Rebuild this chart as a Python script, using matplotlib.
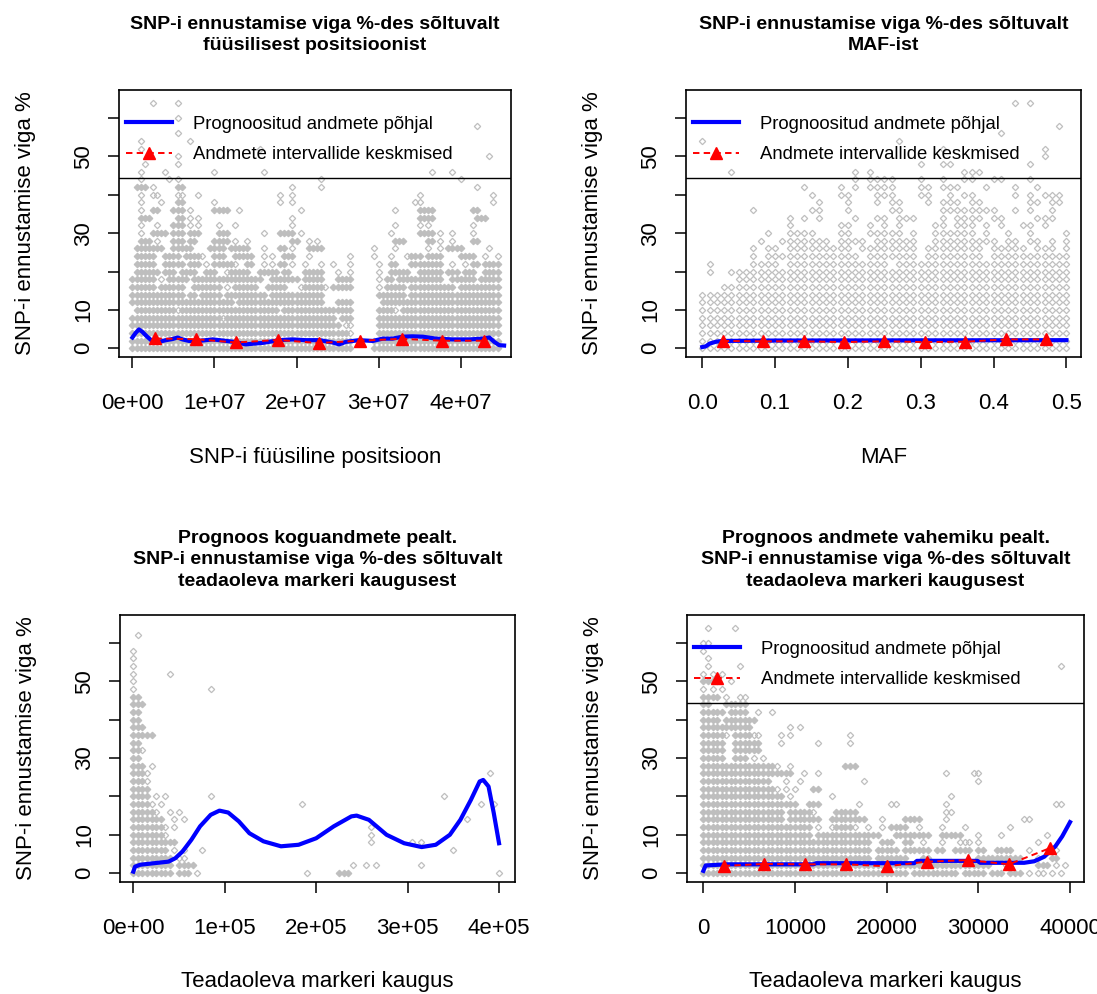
import matplotlib
matplotlib.use("Agg")
import matplotlib.pyplot as plt
from matplotlib.lines import Line2D

plt.rcParams.update({
    'font.family': 'Liberation Sans',
    'font.size': 16,
    'axes.linewidth': 1.2,
})

GRAY = '#BEBEBE'
ROW_STEP = 2.0          # error rows are 2 % apart

# --- scatter clouds: one spec string per error row (bottom row first),
# --- "a-b" = run of overlapping points, "c" = single point (column index)
POS_STEP = 0.5e6
POS_ROWS = [
    "0-53 59-89",
    "0-53 59-89",
    "0-52 53 60-89",
    "0-50 52 53 60-89",
    "0-21 22 23-49 51-53 60-76 77-89",
    "1-10 11 12-35 37-53 60-63 64 66-89",
    "0-12 13-24 26-46 50-53 61-89",
    "0-12 14-15 17-21 23-28 29-32 34-46 60-66 68-89",
    "0-5 7-12 15-21 23 25-30 33-37 41 42-46 47 49-53 60 62-66 68-78 80-89",
    "0-5 7 9-13 15-24 25-31 34-40 42-46 50-53 60 62-63 65-75 78-83 85-89",
    "1-6 8-10 12-15 18-20 23 24-28 31-35 37-38 42-46 50 53 60 63-67 70-75 77-79 81-83 86-89",
    "1-5 8-12 14-16 18 20-24 25 28-29 32 34 36-37 39 42 46 49 53 60 63-64 68-75 78 81 83-84 86-89",
    "1-5 8-11 13-16 17 20-22 25-29 32 34 37-39 43 53 59 63 67 68-70 72-75 80-83 86 89",
    "1-7 10-14 19-22 24-28 32 36-37 39 43-46 59 64 72 75 77-80 87",
    "2-4 6 10-12 14-15 20-23 25 28 39-40 43 45 64-66 72-73 75 78 83-84",
    "2 5-8 10-12 14-16 21-23 32 36-39 41 63 70-73 75 78 83",
    "2 6 10-12 14 16 21 25 39 64 70 72 83",
    "2-4 11-12 14 16 39 70-73 84-86",
    "2 5-6 10-12 14 20-23 26 41 64 70-73 83-84",
    "2 7 11-12 20 36 39 69 70 88",
    "2 5 6 11 12 16 36 39 70 88",
    "1-3 5 11-12 39 46 84",
    "2 9 11 46 80",
    "2 8 20 32 73 78",
    "3 11",
    "11 87",
    "2 31",
    "2 14",
    "11",
    "84",
    "11",
    "",
    "5 11",
]

MAF_STEP = 0.01
MAF_ROWS = [
    "0-50", "0-50", "0-50", "0-50", "0-50", "0-50", "0-50", "0-50",
    "3-50",
    "5-50",
    "1 4-50",
    "1 7-10 12-25 27-50",
    "7 9-21 23-29 31-38 40-50",
    "7 9-10 12-20 22-29 31-38 40-44 46-48 50",
    "8 11-17 19-22 24-29 32-40 42-43 45-46 48 50",
    "9 12-15 19-20 23-27 29 32-37 39 42 45 50",
    "12 19-20 23 25 27 32-33 35-37 39 41 44-45 47",
    "12 14 16 21 24-25 27-29 33 35-38 40-41 46-48",
    "7 15-16 20 26-27 33-40 43 45 48",
    "16 20 24 26-27 31 33-35 37-38 45-46 48-49",
    "15 19-20 24-26 30-31 34 36-37 43 45 47-49",
    "14 19 21 23-26 30-31 33-35 39 43 46",
    "21 23-26 30 33 36-37 40-41 45",
    "4 21 23 36-38",
    "30 33-34 45",
    "47",
    "33 47",
    "0 27",
    "41",
    "49",
    "",
    "",
    "43 45",
]

DIST_STEP = 5000
DIST_ROWS = [
    "0-8 10-12 14 38 45-47 80",
    "0-8 10-13 48 51 53 63",
    "0-8 10 11",
    "0-7 9 11 15 70",
    "0-7 8-9 52 61 63",
    "0-6 7 52",
    "0-6 7 9 52",
    "0-4 5-6 9 11 73",
    "0-4 5 8 10",
    "0-3 4 6 37 76 79",
    "0-3 5 7 17 68",
    "0-3",
    "0-2 3",
    "0-2 3 78",
    "0-2 4",
    "0-1",
    "0-1 2",
    "0-1",
    "0-1 2-4",
    "0-2",
    "0-1",
    "0-1",
    "0-2",
    "0-1",
    "0 17",
    "0",
    "0 8",
    "0",
    "0",
    "0",
    "",
    "1",
]

GAP_STEP = 500
GAP_ROWS = [
    "0-44 46-55 57-61 63-65 67-69 71 73 74 76 78",
    "0-62 66 73-75 77 79",
    "0-36 38-44 48-49 60-63 64-69 73 76-77",
    "0-36 38-42 44-49 51-52 55-58 60-61 64-67 71 77",
    "0-29 30-36 39-41 44-45 48 52 56 57 58 60 73",
    "0-23 25-32 33-38 42-49 52-56 60 65 75",
    "0-12 13-18 19-23 25 28 29-32 33 36 39 41-44 47 52 57 67",
    "0-11 12-17 19-25 28-35 39 44-47 53 70 71",
    "0-12 13-17 19-23 24 29-33 53 54",
    "0-8 9-14 15-20 23-25 34 41 42 53 77 78",
    "0-17 19 28 54",
    "0-15 16 18 20 24-25",
    "0-9 10-14 18 21 35 60",
    "0-13 14-19 22 25 53 59 60",
    "0-11 12-15 16 19 31-33",
    "0-4 7-9 11 13",
    "0-4 7-9 10-12",
    "0-4 7-12 17 25 32",
    "0-4 5 7-10 11 12 17 19 32",
    "0-1 2-10 19 21",
    "0-3 5-11",
    "0-4 6-9 12 15",
    "0-1 5-9",
    "0-3 5 8 9",
    "0 2 4",
    "0-3 6",
    "0 2 4",
    "1 8 78",
    "1",
    "0",
    "0 1",
    "",
    "1 7",
]

# --- fitted curves and interval means
POS_FIT_X = [0, 0.4e6, 0.8e6, 1.2e6, 1.8e6, 2.4e6, 3.2e6, 4.1e6, 4.9e6, 5.5e6,
             6.1e6, 6.9e6, 8.1e6, 9.8e6, 10.6e6, 11.4e6, 12.6e6, 13.8e6, 15.9e6, 17.9e6,
             19.5e6, 21.1e6, 22.8e6, 24.4e6, 25.2e6, 26.0e6, 27.6e6, 29.3e6, 30.5e6, 31.7e6,
             32.9e6, 34.1e6, 35.4e6, 37.0e6, 39.0e6, 41.1e6, 42.7e6, 43.5e6, 44.1e6, 44.7e6,
             45.3e6]
POS_FIT_Y = [2.8, 4.0, 4.9, 4.3, 3.0, 1.9, 1.65, 2.1, 2.4, 2.8,
             2.3, 1.9, 1.9, 2.3, 2.1, 1.9, 1.6, 1.0, 1.4, 2.1,
             2.3, 2.1, 2.1, 1.5, 1.0, 1.65, 2.1, 1.9, 2.5, 2.5,
             3.0, 3.1, 3.0, 2.5, 2.3, 2.3, 2.5, 2.8, 1.65, 0.8,
             0.7]
POS_MID_X = [2.8e6, 7.7e6, 12.6e6, 17.7e6, 22.7e6, 27.7e6, 32.8e6, 37.7e6, 42.8e6]
POS_MID_Y = [2.55, 2.35, 1.5, 2.15, 1.35, 1.95, 2.45, 1.95, 1.95]

MAF_FIT_X = [0, 0.005, 0.01, 0.019, 0.028, 0.1, 0.5]
MAF_FIT_Y = [0.3, 0.5, 1.2, 1.7, 1.9, 2.0, 2.1]
MAF_MID_X = [0.028, 0.083, 0.139, 0.194, 0.250, 0.306, 0.361, 0.417, 0.472]
MAF_MID_Y = [1.9, 1.8, 1.8, 1.6, 1.8, 1.6, 1.7, 2.3, 2.3]

DIST_FIT_X = [0, 1900, 7700, 23000, 38500, 46000, 54000, 63500, 73000, 84600,
              94200, 103800, 115400, 127000, 142300, 161500, 180800, 200000, 219200, 238500,
              244200, 257700, 277000, 296200, 315400, 330800, 346200, 357700, 369200, 378800,
              382700, 388500, 394200, 400000]
DIST_FIT_Y = [0.4, 1.7, 2.2, 2.6, 3.0, 3.9, 5.7, 8.7, 12.2, 15.2,
              16.3, 15.8, 13.5, 10.4, 8.3, 7.0, 7.4, 9.1, 12.2, 14.8,
              15.0, 13.9, 10.0, 7.8, 6.8, 7.4, 10.0, 13.9, 19.1, 23.9,
              24.3, 22.6, 15.7, 7.8]

GAP_FIT_X = [0, 250, 2500, 12000, 12300, 23000, 23300, 29900, 30200, 35000,
             36100, 37200, 38400, 39150, 40000]
GAP_FIT_Y = [0.6, 2.0, 2.3, 2.3, 2.6, 2.6, 3.2, 3.2, 2.7, 2.7,
             3.1, 4.3, 7.0, 9.6, 13.3]
GAP_MID_X = [2222, 6667, 11111, 15556, 20000, 24444, 28889, 33333, 37778]
GAP_MID_Y = [1.9, 2.4, 2.3, 2.3, 1.8, 3.0, 3.4, 2.3, 6.5]

Y_TICKS = [0, 10, 20, 30, 40, 50, 60]
Y_TICK_LABELS = ['0', '10', '', '30', '', '50', '']
LEGEND_FLOOR = 44.4
LEGEND_LABELS = ['Prognoositud andmete põhjal', 'Andmete intervallide keskmised']
Y_LABEL = 'SNP-i ennustamise viga %'


def parse_row(spec):
    runs, singles = [], []
    for tok in spec.split():
        if '-' in tok:
            a, b = (int(v) for v in tok.split('-'))
            runs.extend(range(a, b + 1))
        else:
            singles.append(int(tok))
    return runs, singles


def draw_cloud(ax, rows, step, solid_runs=True):
    fx, fy, ox, oy = [], [], [], []
    for k, spec in enumerate(rows):
        runs, singles = parse_row(spec)
        y = k * ROW_STEP
        if solid_runs:
            fx += [c * step for c in runs]
            fy += [y] * len(runs)
        else:
            singles = runs + singles
        ox += [c * step for c in singles]
        oy += [y] * len(singles)
    ax.plot(fx, fy, 'D', ms=3.3, color=GRAY, mec=GRAY, mew=0.9, zorder=1)
    ax.plot(ox, oy, 'D', ms=3.2, mfc='none', mec=GRAY, mew=0.9, zorder=1)


def draw_fit(ax, x, y):
    ax.plot(x, y, color='blue', lw=3, zorder=3, solid_joinstyle='round')


def draw_means(ax, x, y):
    ax.plot(x, y, color='red', lw=1.4, dashes=(3.3, 2.2), marker='^', ms=8,
            zorder=4)


def add_legend(ax):
    ax.axhline(LEGEND_FLOOR, color='black', lw=1.0, zorder=5)
    handles = [Line2D([], [], color='blue', lw=3),
               Line2D([], [], color='red', lw=1.4, dashes=(3.3, 2.2),
                      marker='^', ms=8)]
    ax.legend(handles, LEGEND_LABELS, loc='upper left', frameon=False,
              bbox_to_anchor=(-0.013, 0.948),
              fontsize=13.3, handlelength=2.5, handletextpad=1.15,
              labelspacing=0.72, borderaxespad=0.1, borderpad=0.55)


def style_axes(ax, xlim, xticks, xticklabels, xlabel, title):
    ax.set_xlim(*xlim)
    ax.set_ylim(-2.3, 67.3)
    ax.set_xticks(xticks, xticklabels)
    ax.set_yticks(Y_TICKS, Y_TICK_LABELS, rotation=90, va='center')
    ax.tick_params(direction='out', length=8, width=1.1, labelsize=16)
    ax.tick_params(axis='x', pad=18)
    ax.tick_params(axis='y', pad=10)
    ax.annotate(title, xy=(0.5, 1), xycoords='axes fraction', xytext=(0, 39.6),
                textcoords='offset points', ha='center', va='center',
                fontsize=14, fontweight='bold', linespacing=1.32)
    ax.annotate(xlabel, xy=(0.5, 0), xycoords='axes fraction', xytext=(0, -72),
                textcoords='offset points', ha='center', va='center', fontsize=16)
    ax.annotate(Y_LABEL, xy=(0, 0.5), xycoords='axes fraction', xytext=(-67, 0),
                textcoords='offset points', ha='center', va='center',
                rotation=90, fontsize=16)


fig = plt.figure(figsize=(10.97, 9.94), dpi=100)

ax1 = fig.add_axes([0.1085, 0.6408, 0.3573, 0.2686])
draw_cloud(ax1, POS_ROWS, POS_STEP)
draw_fit(ax1, POS_FIT_X, POS_FIT_Y)
draw_means(ax1, POS_MID_X, POS_MID_Y)
add_legend(ax1)
style_axes(ax1, (-1.63e6, 4.614e7), [0, 1e7, 2e7, 3e7, 4e7],
           ['0e+00', '1e+07', '2e+07', '3e+07', '4e+07'],
           'SNP-i füüsiline positsioon',
           'SNP-i ennustamise viga %-des sõltuvalt\nfüüsilisest positsioonist')

ax2 = fig.add_axes([0.6253, 0.6408, 0.3601, 0.2686])
draw_cloud(ax2, MAF_ROWS, MAF_STEP, solid_runs=False)
draw_fit(ax2, MAF_FIT_X, MAF_FIT_Y)
draw_means(ax2, MAF_MID_X, MAF_MID_Y)
add_legend(ax2)
style_axes(ax2, (-0.0224, 0.520), [0, 0.1, 0.2, 0.3, 0.4, 0.5],
           ['0.0', '0.1', '0.2', '0.3', '0.4', '0.5'], 'MAF',
           'SNP-i ennustamise viga %-des sõltuvalt\nMAF-ist')

ax3 = fig.add_axes([0.1094, 0.1127, 0.3601, 0.2686])
draw_cloud(ax3, DIST_ROWS, DIST_STEP)
draw_fit(ax3, DIST_FIT_X, DIST_FIT_Y)
style_axes(ax3, (-14545, 417500), [0, 1e5, 2e5, 3e5, 4e5],
           ['0e+00', '1e+05', '2e+05', '3e+05', '4e+05'],
           'Teadaoleva markeri kaugus',
           'Prognoos koguandmete pealt.\nSNP-i ennustamise viga %-des sõltuvalt\n'
           'teadaoleva markeri kaugusest')

ax4 = fig.add_axes([0.6263, 0.1127, 0.3619, 0.2686])
draw_cloud(ax4, GAP_ROWS, GAP_STEP)
draw_fit(ax4, GAP_FIT_X, GAP_FIT_Y)
draw_means(ax4, GAP_MID_X, GAP_MID_Y)
add_legend(ax4)
style_axes(ax4, (-1778, 41530), [0, 10000, 20000, 30000, 40000],
           ['0', '10000', '20000', '30000', '40000'],
           'Teadaoleva markeri kaugus',
           'Prognoos andmete vahemiku pealt.\nSNP-i ennustamise viga %-des sõltuvalt\n'
           'teadaoleva markeri kaugusest')

fig.savefig('out.png', dpi=100)
